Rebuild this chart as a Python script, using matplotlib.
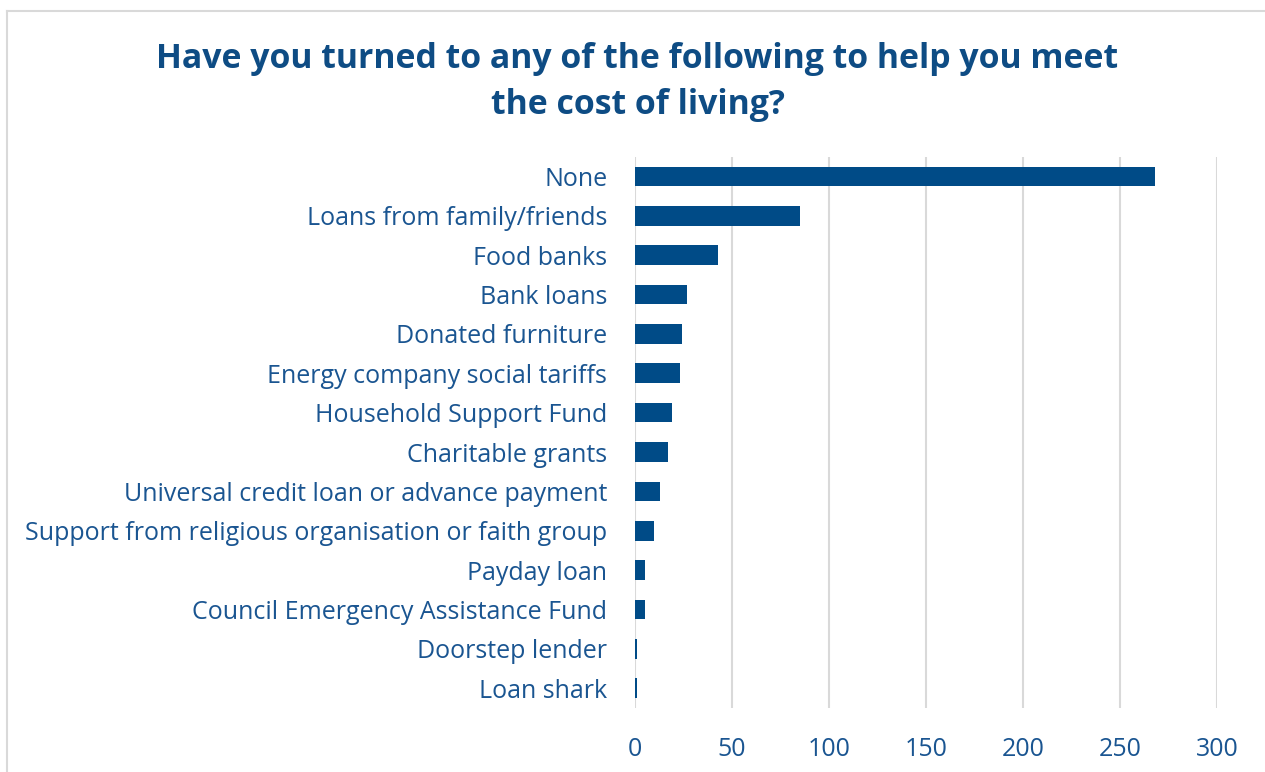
import matplotlib.pyplot as plt
from matplotlib.lines import Line2D

plt.rcParams['font.family'] = ['Open Sans', 'DejaVu Sans']

# Survey responses (number of people)
categories = [
    "None",
    "Loans from family/friends",
    "Food banks",
    "Bank loans",
    "Donated furniture",
    "Energy company social tariffs",
    "Household Support Fund",
    "Charitable grants",
    "Universal credit loan or advance payment",
    "Support from religious organisation or faith group",
    "Payday loan",
    "Council Emergency Assistance Fund",
    "Doorstep lender",
    "Loan shark",
]
counts = [268, 85, 43, 27, 24, 23, 19, 17, 13, 10, 5, 5, 1, 1]
x_ticks = [0, 50, 100, 150, 200, 250, 300]

bar_color = "#004B87"
text_color = "#1A5591"
title_color = "#0E4C84"
grid_color = "#D9D9D9"

fig = plt.figure(figsize=(12.65, 7.72), dpi=100)
ax = fig.add_axes([0.502, 0.083, 0.46, 0.714])

y = list(range(len(categories)))
ax.barh(y, counts, height=0.5, color=bar_color, zorder=3)

ax.set_ylim(len(categories) - 0.5, -0.5)
ax.set_xlim(0, 300)
ax.set_xticks(x_ticks)
ax.set_yticks(y)
ax.set_yticklabels(categories)

ax.grid(axis="x", color=grid_color, linewidth=1.5, zorder=0)
for s in ax.spines.values():
    s.set_visible(False)
ax.tick_params(axis="y", length=0, pad=20, labelsize=18, labelcolor=text_color)
ax.tick_params(axis="x", length=0, pad=21, labelsize=18, labelcolor=text_color)

fig.text(0.504, 0.894, "Have you turned to any of the following to help you meet\nthe cost of living?",
         ha="center", va="center", fontsize=24.4, fontweight="bold", color=title_color,
         linespacing=1.45)

# chart frame (top and left edges)
fig.add_artist(Line2D([7 / 1265, 1.0], [1 - 11 / 772] * 2, color="#D9D9D9", linewidth=1.5))
fig.add_artist(Line2D([7 / 1265] * 2, [0.0, 1 - 11 / 772], color="#D9D9D9", linewidth=1.5))

fig.savefig("out.png", dpi=100)
